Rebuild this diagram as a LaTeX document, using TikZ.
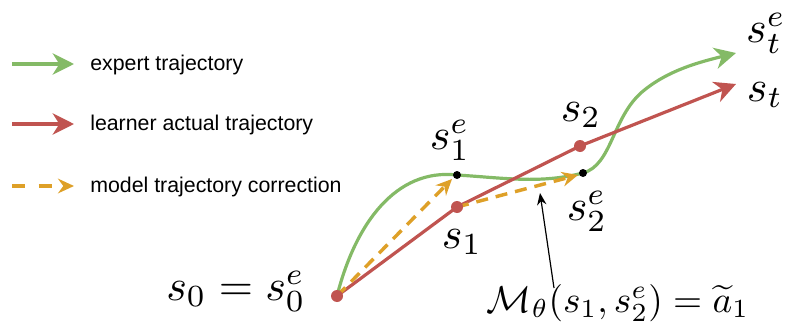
\documentclass[tikz,border=0pt]{standalone}
\usepackage{fontspec}
\setsansfont{Liberation Sans}
\usetikzlibrary{arrows.meta}
\definecolor{grn}{RGB}{132,186,102}
\definecolor{rd}{RGB}{192,84,80}
\definecolor{org}{RGB}{222,160,40}
\newcommand{\mybigmath}[1]{\scalebox{3.3}{$#1$}}
\newcommand{\mymidmath}[1]{\scalebox{2.8}{$#1$}}
\tikzset{
  traj/.style={line width=2.4pt},
  expert/.style={traj, draw=grn, -{Stealth[length=16pt,width=16pt,inset=5pt]}},
  learner/.style={traj, draw=rd, -{Stealth[length=16pt,width=16pt,inset=5pt]}},
  corr/.style={line width=2.6pt, draw=org, dash pattern=on 9pt off 6pt, -{Stealth[length=12pt,width=11pt,inset=4pt]}},
  corrleg/.style={corr, dash pattern=on 10pt off 10pt},
  rdot/.style={circle, fill=rd, inner sep=0pt, minimum size=9pt},
  bdot/.style={circle, fill=black, inner sep=0pt, minimum size=6pt},
  leg/.style={anchor=west, font=\sffamily\fontsize{16}{19}\selectfont, inner sep=0pt},
  mlab/.style={inner sep=0pt},
}
\begin{document}
\begin{tikzpicture}[x=0.75pt,y=-0.75pt]
\useasboundingbox (0,0) rectangle (786,332);
% legend
\coordinate (l1a) at (12,64); \coordinate (l1b) at (74,64);
\coordinate (l2a) at (12,124); \coordinate (l2b) at (74,124);
\coordinate (l3a) at (12,186); \coordinate (l3b) at (74,186);
\draw[expert] (l1a) -- (l1b);
\draw[learner] (l2a) -- (l2b);
\draw[corrleg] (l3a) -- (l3b);
\node[leg] (t1) at (90,65) {expert trajectory};
\node[leg] (t2) at (90,125) {learner actual trajectory};
\node[leg] (t3) at (90,187) {model trajectory correction};
% key points
\coordinate (s0) at (337,296);
\coordinate (s1) at (457,207);
\coordinate (s2) at (580,146);
\coordinate (s1e) at (457,175);
\coordinate (s2e) at (583,173);
\coordinate (set) at (736,53);
\coordinate (st) at (736,84);
% expert trajectory
\draw[expert] (s0) .. controls (355,225) and (395,168) .. (s1e)
  .. controls (505,178) and (540,184) .. (s2e)
  .. controls (612,165) and (612,118) .. (642,92)
  .. controls (668,70) and (700,62) .. (set);
% learner trajectory
\draw[learner] (s0) -- (s1) -- (s2) -- (st);
% corrections
\draw[corr] (s0) -- (452,179);
\draw[corr] (s1) -- (578,175);
% dots
\node[rdot] (d0) at (s0) {};
\node[rdot] (d1) at (s1) {};
\node[rdot] (d2) at (s2) {};
\node[bdot] (d1e) at (s1e) {};
\node[bdot] (d2e) at (s2e) {};
% labels
\node[mlab] (ls0) at (236,291) {\mybigmath{s_0 = s_0^e}};
\node[mlab] (ls1) at (462,242) {\mybigmath{s_1}};
\node[mlab] (ls1e) at (450,140) {\mybigmath{s_1^e}};
\node[mlab] (ls2) at (581,115) {\mybigmath{s_2}};
\node[mlab] (ls2e) at (587,211) {\mybigmath{s_2^e}};
\node[mlab] (lset) at (766,33) {\mybigmath{s_t^e}};
\node[mlab] (lst) at (765,95) {\mybigmath{s_t}};
\node[mlab] (lm) at (618,303) {\mymidmath{\mathcal{M}_\theta(s_1, s_2^e) = \widetilde{a}_1}};
\coordinate (atip) at (540,193);
\coordinate (abase) at (554,288);
\draw[line width=0.9pt, -{Stealth[length=9pt,width=7pt]}] (abase) -- (atip);
\end{tikzpicture}
\end{document}
